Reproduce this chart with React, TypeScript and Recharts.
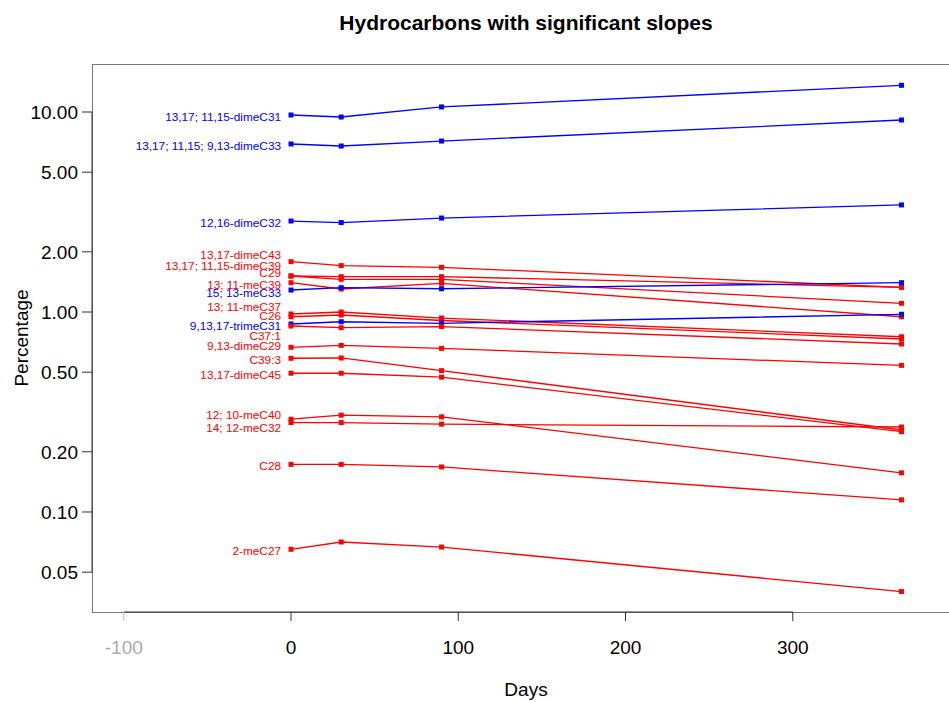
import { LineChart, Line, XAxis, YAxis, ReferenceLine } from 'recharts'

const DAYS = [0, 30, 90, 365]

// percentages at day 0, 30, 90, 365
const dimeC31 = [9.66, 9.44, 10.6, 13.6]
const dimeC33 = [6.92, 6.76, 7.16, 9.12]
const dimeC32 = [2.85, 2.8, 2.95, 3.43]
const dimeC43 = [1.785, 1.706, 1.673, 1.329]
const dimeC39 = [1.514, 1.502, 1.502, 1.329]
const c29 = [1.514, 1.457, 1.457, 1.105]
const meC39 = [1.401, 1.303, 1.391, 0.947]
const meC33 = [1.288, 1.323, 1.307, 1.401]
const meC37 = [0.977, 1.0, 0.933, 0.752]
const c26 = [0.947, 0.966, 0.907, 0.733]
const trimeC31 = [0.871, 0.894, 0.878, 0.974]
const c37_1 = [0.851, 0.835, 0.846, 0.692]
const dimeC29 = [0.666, 0.681, 0.658, 0.541]
const c39_3 = [0.587, 0.589, 0.509, 0.257]
const dimeC45 = [0.494, 0.494, 0.472, 0.252]
const meC40 = [0.291, 0.305, 0.299, 0.157]
const meC32 = [0.28, 0.28, 0.275, 0.266]
const c28 = [0.173, 0.173, 0.168, 0.115]
const meC27 = [0.0651, 0.0708, 0.0668, 0.04]

const Y_TICKS = [0.05, 0.1, 0.2, 0.5, 1, 2, 5, 10]
const X_TICKS = [-100, 0, 100, 200, 300]

const RED = '#ff0000'
const BLUE = '#0000ff'
const FONT = '"Liberation Sans", Arial, sans-serif'

const X_MIN = -119
const X_MAX = 400
const Y_MIN = 0.03162
const Y_MAX = 17.38

// label nudges (px) so the names don't overlap, like the original
const SERIES = [
  { name: '13,17; 11,15-dimeC31', values: dimeC31, color: BLUE, dy: 2 },
  { name: '13,17; 11,15; 9,13-dimeC33', values: dimeC33, color: BLUE, dy: 2 },
  { name: '12,16-dimeC32', values: dimeC32, color: BLUE, dy: 2 },
  { name: '13,17-dimeC43', values: dimeC43, color: RED, dy: -7 },
  { name: '13,17; 11,15-dimeC39', values: dimeC39, color: RED, dy: -10 },
  { name: 'C29', values: c29, color: RED, dy: -3 },
  { name: '13; 11-meC39', values: meC39, color: RED, dy: 2 },
  { name: '15; 13-meC33', values: meC33, color: BLUE, dy: 3 },
  { name: '13; 11-meC37', values: meC37, color: RED, dy: -7 },
  { name: 'C26', values: c26, color: RED, dy: -1 },
  { name: '9,13,17-trimeC31', values: trimeC31, color: BLUE, dy: 2 },
  { name: 'C37:1', values: c37_1, color: RED, dy: 10 },
  { name: '9,13-dimeC29', values: dimeC29, color: RED, dy: -1 },
  { name: 'C39:3', values: c39_3, color: RED, dy: 2 },
  { name: '13,17-dimeC45', values: dimeC45, color: RED, dy: 2 },
  { name: '12; 10-meC40', values: meC40, color: RED, dy: -4 },
  { name: '14; 12-meC32', values: meC32, color: RED, dy: 5 },
  { name: 'C28', values: c28, color: RED, dy: 1 },
  { name: '2-meC27', values: meC27, color: RED, dy: 2 },
]

function XTick(props: any) {
  const { x, y, payload } = props
  const color = payload.value === -100 ? '#bbbbbb' : '#333333'
  return (
    <g>
      <line x1={x} x2={x} y1={y - 9} y2={y} stroke={color} strokeWidth={1} />
      <text x={x} y={y + 33} textAnchor="middle" fill={payload.value === -100 ? '#aaaaaa' : '#000'} fontSize={19} fontFamily={FONT}>
        {payload.value}
      </text>
    </g>
  )
}

export default function App() {
  return (
    <div style={{ position: 'absolute', left: 0, top: 0, width: 949, height: 702, overflow: 'hidden', background: '#fff', fontFamily: FONT }}>
      <div
        style={{
          position: 'absolute',
          left: 92,
          top: 64,
          width: 868,
          height: 549,
          border: '1px solid #777',
          boxSizing: 'border-box',
        }}
      />
      <LineChart width={968} height={702} margin={{ top: 64, right: 8, bottom: 0, left: 0 }}>
        <XAxis
          dataKey="day"
          type="number"
          domain={[X_MIN, X_MAX]}
          ticks={X_TICKS}
          allowDataOverflow
          axisLine={false}
          tickLine={false}
          tickSize={9}
          tickMargin={0}
          height={90}
          tick={<XTick />}
        />
        <YAxis
          type="number"
          scale="log"
          domain={[Y_MIN, Y_MAX]}
          ticks={Y_TICKS}
          allowDataOverflow
          width={92}
          axisLine={false}
          tickLine={{ stroke: '#333' }}
          tickSize={10}
          tickMargin={4}
          tickFormatter={(v: number) => v.toFixed(2)}
          tick={{ fill: '#000', fontSize: 19, fontFamily: FONT }}
        />
        <ReferenceLine
          segment={[{ x: -100, y: Y_MIN }, { x: 300, y: Y_MIN }]}
          stroke="#333"
          ifOverflow="visible"
        />
        <ReferenceLine
          segment={[{ x: X_MIN, y: 0.05 }, { x: X_MIN, y: 10 }]}
          stroke="#333"
          ifOverflow="visible"
        />
        {SERIES.map((s) => (
          <Line
            key={s.name}
            data={DAYS.map((d, i) => ({ day: d, value: s.values[i] }))}
            dataKey="value"
            stroke={s.color}
            strokeWidth={1.3}
            isAnimationActive={false}
            dot={(p: any) => (
              <rect key={`${s.name}-${p.index}`} x={p.cx - 2.5} y={p.cy - 2.5} width={5} height={5} fill={s.color} />
            )}
            label={(p: any) =>
              p.index === 0 ? (
                <text
                  key={`${s.name}-label`}
                  x={p.x - 10}
                  y={p.y + s.dy}
                  dy="0.35em"
                  textAnchor="end"
                  fill={s.color}
                  fontSize={11.8}
                  fontFamily={FONT}
                >
                  {s.name}
                </text>
              ) : (
                <g key={`${s.name}-nolabel-${p.index}`} />
              )
            }
          />
        ))}
      </LineChart>
      <div style={{ position: 'absolute', left: 226, width: 600, top: 11, textAlign: 'center', fontWeight: 'bold', fontSize: 21 }}>
        Hydrocarbons with significant slopes
      </div>
      <div style={{ position: 'absolute', left: 226, width: 600, top: 679, textAlign: 'center', fontSize: 19 }}>Days</div>
      <div
        style={{
          position: 'absolute',
          left: -38,
          top: 327,
          width: 120,
          height: 22,
          lineHeight: '22px',
          textAlign: 'center',
          fontSize: 19,
          transform: 'rotate(-90deg)',
        }}
      >
        Percentage
      </div>
    </div>
  )
}
